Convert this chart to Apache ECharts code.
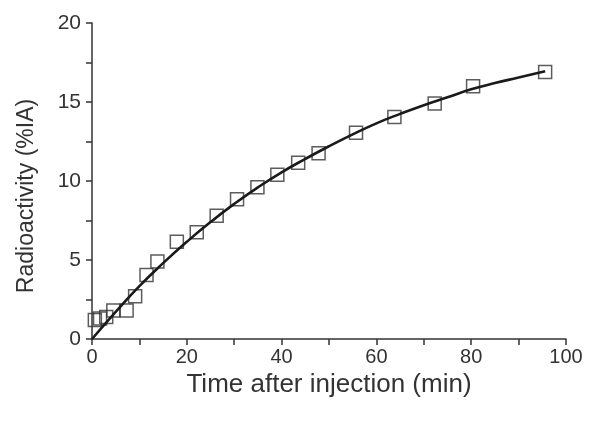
<!DOCTYPE html>
<html><head><meta charset="utf-8">
<script src="https://cdn.jsdelivr.net/npm/echarts@6/dist/echarts.min.js"></script>
<style>html,body{margin:0;padding:0;background:#fff}#c{width:600px;height:428px}</style>
</head><body><div id="c"></div>
<script>
// Measured data points (time in min, radioactivity in %IA)
var timeVals = [0.6, 1.7, 3.0, 4.5, 7.3, 9.1, 11.5, 13.8, 17.9, 22.1, 26.3, 30.6, 34.9, 39.1, 43.5, 47.8, 55.7, 63.8, 72.3, 80.4, 95.6];
var radioVals = [1.2, 1.3, 1.4, 1.8, 1.8, 2.7, 4.05, 4.9, 6.15, 6.75, 7.8, 8.85, 9.6, 10.4, 11.15, 11.75, 13.05, 14.05, 14.9, 16.0, 16.9];
// Fitted curve
var curveX = [0, 5, 10, 15, 20, 25, 30, 35, 40, 45, 50, 55, 60, 65, 70, 75, 80, 85, 90, 95.6];
var curveY = [0, 1.72, 3.35, 4.8, 6.15, 7.4, 8.55, 9.6, 10.55, 11.4, 12.2, 12.95, 13.65, 14.25, 14.8, 15.3, 15.8, 16.2, 16.55, 16.95];
var xTicks = [0, 20, 40, 60, 80, 100];
var yTicks = [0, 5, 10, 15, 20];

var pts = timeVals.map(function (t, i) { return [t, radioVals[i]]; });
var curve = curveX.map(function (t, i) { return [t, curveY[i]]; });
var axisCol = '#333';
var font = 'Liberation Sans, Arial, sans-serif';
var chart = echarts.init(document.getElementById('c'));
chart.setOption({
  animation: false,
  grid: { left: 92, right: 34, top: 23, bottom: 89 },
  xAxis: {
    type: 'value', min: 0, max: 100, interval: 10,
    name: 'Time after injection (min)', nameLocation: 'middle', nameGap: 26,
    nameTextStyle: { color: axisCol, fontSize: 26, fontFamily: font },
    axisLine: { onZero: false, lineStyle: { color: axisCol, width: 1.5 } },
    axisTick: { length: 6, lineStyle: { color: axisCol, width: 1.5 } },
    axisLabel: { color: axisCol, fontSize: 20, fontFamily: font, margin: 8,
      formatter: function (v) { return xTicks.indexOf(v) >= 0 ? String(v) : ''; } },
    splitLine: { show: false }
  },
  yAxis: {
    type: 'value', min: 0, max: 20, interval: 2.5,
    name: 'Radioactivity (%IA)', nameLocation: 'middle', nameGap: 54,
    nameTextStyle: { color: axisCol, fontSize: 23, fontFamily: font, padding: [0, 30, 0, 0] },
    axisLine: { onZero: false, lineStyle: { color: axisCol, width: 1.5 } },
    axisTick: { length: 6, lineStyle: { color: axisCol, width: 1.5 } },
    axisLabel: { color: axisCol, fontSize: 21, fontFamily: font, margin: 11,
      formatter: function (v) { return yTicks.indexOf(v) >= 0 ? String(v) : ''; } },
    splitLine: { show: false }
  },
  series: [
    { type: 'scatter', data: pts, symbol: 'rect', symbolSize: 13,
      itemStyle: { color: 'rgba(0,0,0,0)', borderColor: '#333', borderWidth: 1.5 }, z: 2 },
    { type: 'line', data: curve, smooth: true, showSymbol: false, symbol: 'none',
      lineStyle: { color: '#1a1a1a', width: 2.6 }, z: 3 }
  ]
});
</script></body></html>
